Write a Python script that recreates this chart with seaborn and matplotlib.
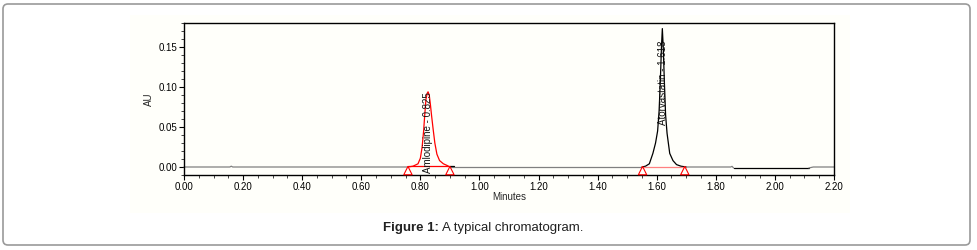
import numpy as np
import pandas as pd
import matplotlib
matplotlib.use("Agg")
import matplotlib.pyplot as plt
from matplotlib.patches import FancyBboxPatch, Rectangle
from matplotlib.ticker import MultipleLocator
import seaborn as sns

# Trace, split by the colour it is drawn in
base1_t = [0.000, 0.155, 0.160, 0.165, 0.758]
base1_au = [0.000, 0.000, 0.001, 0.000, 0.000]

amlo_t = [0.758, 0.775, 0.792, 0.800, 0.806, 0.811, 0.815, 0.819, 0.823, 0.826,
          0.830, 0.834, 0.838, 0.843, 0.849, 0.856, 0.865, 0.878, 0.890, 0.900]
amlo_au = [0.000, 0.001, 0.004, 0.011, 0.025, 0.045, 0.066, 0.085, 0.092, 0.094,
           0.090, 0.078, 0.064, 0.048, 0.030, 0.016, 0.008, 0.004, 0.002, 0.000]

base2_t = [0.900, 1.000, 1.300, 1.550]
base2_au = [0.000, 0.000, 0.000, 0.000]

ator_t = [1.550, 1.562, 1.575, 1.587, 1.596, 1.603, 1.608, 1.612, 1.616, 1.619,
          1.622, 1.626, 1.630, 1.635, 1.644, 1.655, 1.667, 1.682, 1.700]
ator_au = [0.000, 0.001, 0.004, 0.017, 0.030, 0.045, 0.070, 0.105, 0.150, 0.173,
           0.150, 0.105, 0.065, 0.042, 0.017, 0.008, 0.003, 0.001, 0.000]

base3_t = [1.700, 1.800, 1.850, 1.855, 1.860]
base3_au = [0.000, 0.000, 0.000, 0.0008, -0.0012]

tail_t = [1.860, 2.000, 2.115]
tail_au = [-0.0012, -0.0012, -0.0012]

end_t = [2.115, 2.130, 2.200]
end_au = [-0.0012, 0.000, 0.000]

# Integration marks
marks_t = [0.758, 0.900, 1.552, 1.695]
marks_au = [-0.0045, -0.0045, -0.0045, -0.0045]

peak_names = ["Amlodipine - 0.825", "Atorvastatin - 1.618"]
peak_t = [0.826, 1.620]
peak_label_bottom = [-0.0075, 0.052]

sns.set_style("ticks")
plt.rcParams['font.family'] = ['Liberation Sans', 'DejaVu Sans']

fig = plt.figure(figsize=(9.78, 2.5), dpi=100)
fig.patch.set_facecolor("white")

# faint cream image area and rounded outer frame
fig.patches.append(Rectangle((130 / 978, 1 - 213 / 250), 720 / 978, 198 / 250,
                             transform=fig.transFigure, facecolor="#fffffa",
                             edgecolor="none", zorder=-10))
fig.patches.append(FancyBboxPatch((3, 5), 967, 241, boxstyle="round,pad=0,rounding_size=5",
                                  transform=None, facecolor="none",
                                  edgecolor="#9a9a9a", linewidth=1.2, zorder=10))

ax = fig.add_axes([184 / 978, 1 - 175 / 250, 650 / 978, 152 / 250])
ax.set_facecolor("#fffffa")

segments = [
    (base1_t, base1_au, "#808080"),
    (amlo_t, amlo_au, "#ff0000"),
    (base2_t, base2_au, "#808080"),
    (ator_t, ator_au, "#000000"),
    (base3_t, base3_au, "#808080"),
    (tail_t, tail_au, "#000000"),
    (end_t, end_au, "#808080"),
]
for t, au, c in segments:
    sns.lineplot(x=t, y=au, ax=ax, color=c, linewidth=0.9, sort=False,
                 estimator=None, clip_on=False)

# integration baselines
sns.lineplot(x=[marks_t[0], marks_t[1]], y=[0.0008, 0.0008], ax=ax, color="#ff0000",
             linewidth=0.9, sort=False, estimator=None)
sns.lineplot(x=[marks_t[1], 0.915], y=[0.0008, 0.0008], ax=ax, color="#000000",
             linewidth=0.9, sort=False, estimator=None)
sns.lineplot(x=[marks_t[2], marks_t[3]], y=[0.0005, 0.0005], ax=ax, color="#ff8080",
             linewidth=0.9, sort=False, estimator=None)

sns.scatterplot(x=marks_t, y=marks_au, ax=ax, marker="^", s=36,
                facecolor="none", edgecolor="#ff0000", linewidth=0.8, zorder=5,
                clip_on=False)

for name, t, yb in zip(peak_names, peak_t, peak_label_bottom):
    ax.text(t, yb, name, rotation=90, ha="center", va="bottom", fontsize=7,
            color="#111111", zorder=6)

ax.set_xlim(0, 2.2)
ax.set_ylim(-0.01, 0.18)
ax.xaxis.set_major_locator(MultipleLocator(0.2))
ax.xaxis.set_minor_locator(MultipleLocator(0.05))
ax.yaxis.set_major_locator(MultipleLocator(0.05))
ax.yaxis.set_minor_locator(MultipleLocator(0.01))
ax.xaxis.set_major_formatter(lambda v, p: f"{v:.2f}")
ax.yaxis.set_major_formatter(lambda v, p: f"{v:.2f}")
ax.tick_params(which="major", direction="out", length=3.5, width=0.8, labelsize=7,
               pad=1.5, colors="#000000")
ax.tick_params(which="minor", direction="out", length=2, width=0.6)
for s in ax.spines.values():
    s.set_visible(True)
    s.set_linewidth(1.0)
    s.set_color("#000000")

ax.set_xlabel("Minutes", fontsize=7, labelpad=0)
ax.set_ylabel("AU", fontsize=7, labelpad=3)

fig.text(439 / 978, 1 - 228 / 250, "Figure 1:", ha="right", va="center",
         fontsize=9.5, fontweight="bold", color="#222222")
fig.text(442 / 978, 1 - 228 / 250, "A typical chromatogram.", ha="left", va="center",
         fontsize=9.5, color="#222222")

fig.savefig("out.png", dpi=100)
